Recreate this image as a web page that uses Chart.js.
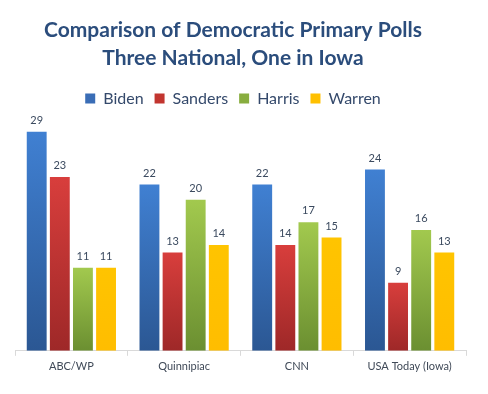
<!DOCTYPE html>
<html>
<head>
<meta charset="utf-8">
<script src="https://cdn.jsdelivr.net/npm/chart.js@4/dist/chart.umd.min.js"></script>
<style>
  html, body { margin: 0; padding: 0; background: #fff; }
  #wrap { width: 488px; height: 394px; position: relative; }
</style>
</head>
<body>
<div id="wrap"><canvas id="pollChart"></canvas></div>
<script>
/* Data */
const polls = ['ABC/WP', 'Quinnipiac', 'CNN', 'USA Today (Iowa)'];
const biden = [29, 22, 22, 24];
const sanders = [23, 13, 14, 9];
const harris = [11, 20, 17, 16];
const warren = [11, 14, 15, 13];

const candidates = ['Biden', 'Sanders', 'Harris', 'Warren'];
const seriesValues = [biden, sanders, harris, warren];

// top / bottom colours of each bar gradient, plus the flat legend swatch
const palette = [
    { top: '#4080d2', bottom: '#2b5793', flat: '#3a6db6' },
    { top: '#d83e3c', bottom: '#9e2828', flat: '#c2352f' },
    { top: '#a2c94e', bottom: '#6b8f31', flat: '#88ad3f' },
    { top: '#ffc400', bottom: '#ffbd00', flat: '#ffc000' },
];

const FONT = 'Lato, "Open Sans", sans-serif';

function barFill(i) {
    return function (ctx) {
        const chart = ctx.chart;
        const y = chart.scales.y;
        if (!chart.chartArea || !y || ctx.raw === undefined) return palette[i].flat;
        const top = y.getPixelForValue(ctx.raw);
        const bottom = y.getPixelForValue(0);
        if (!isFinite(top) || !isFinite(bottom) || top === bottom) return palette[i].flat;
        const g = chart.ctx.createLinearGradient(0, top, 0, bottom);
        g.addColorStop(0, palette[i].top);
        g.addColorStop(1, palette[i].bottom);
        return g;
    };
}

// value labels above each bar
const valueLabels = {
    id: 'valueLabels',
    afterDatasetsDraw(chart) {
        const c = chart.ctx;
        c.save();
        c.font = '11px ' + FONT;
        c.fillStyle = '#3b4a5f';
        c.textAlign = 'center';
        c.textBaseline = 'bottom';
        chart.data.datasets.forEach((ds, di) => {
            chart.getDatasetMeta(di).data.forEach((bar, j) => {
                c.fillText(ds.data[j], bar.x, bar.y - 6);
            });
        });
        c.restore();
    }
};

new Chart('pollChart', {
    type: 'bar',
    data: {
        labels: polls,
        datasets: candidates.map((name, i) => ({
            label: name,
            data: seriesValues[i],
            backgroundColor: barFill(i),
            borderWidth: 0,
        }))
    },
    options: {
        responsive: true,
        maintainAspectRatio: false,
        animation: false,
        layout: { padding: { top: 17, left: 0, right: 22, bottom: 17 } },
        categoryPercentage: 0.82,
        barPercentage: 0.86,
        scales: {
            x: {
                grid: {
                    display: true,
                    offset: true,
                    drawOnChartArea: false,
                    tickLength: 5,
                    color: '#d9d9d9'
                },
                border: { display: true, color: '#d9d9d9' },
                ticks: {
                    color: '#404a58',
                    padding: 4,
                    font: { family: FONT, size: 11 }
                }
            },
            y: {
                min: 0,
                max: 31,
                grid: { display: false },
                border: { display: false },
                ticks: { display: false },
                afterFit(scale) { scale.width = 15; }
            }
        },
        plugins: {
            title: {
                display: true,
                text: ['Comparison of Democratic Primary Polls', 'Three National, One in Iowa'],
                color: '#2b4d7c',
                font: { family: FONT, size: 21, weight: 'bold', lineHeight: 1.3 },
                padding: { top: 0, bottom: 8 }
            },
            legend: {
                position: 'top',
                labels: {
                    color: '#34496b',
                    font: { family: FONT, size: 16 },
                    boxWidth: 10,
                    boxHeight: 10,
                    padding: 11,
                    generateLabels() {
                        return candidates.map((name, i) => ({
                            text: name,
                            fillStyle: palette[i].flat,
                            strokeStyle: palette[i].flat,
                            lineWidth: 0,
                            fontColor: '#34496b',
                            datasetIndex: i
                        }));
                    }
                }
            },
            tooltip: { enabled: false }
        }
    },
    plugins: [valueLabels]
});
</script>
</body>
</html>
